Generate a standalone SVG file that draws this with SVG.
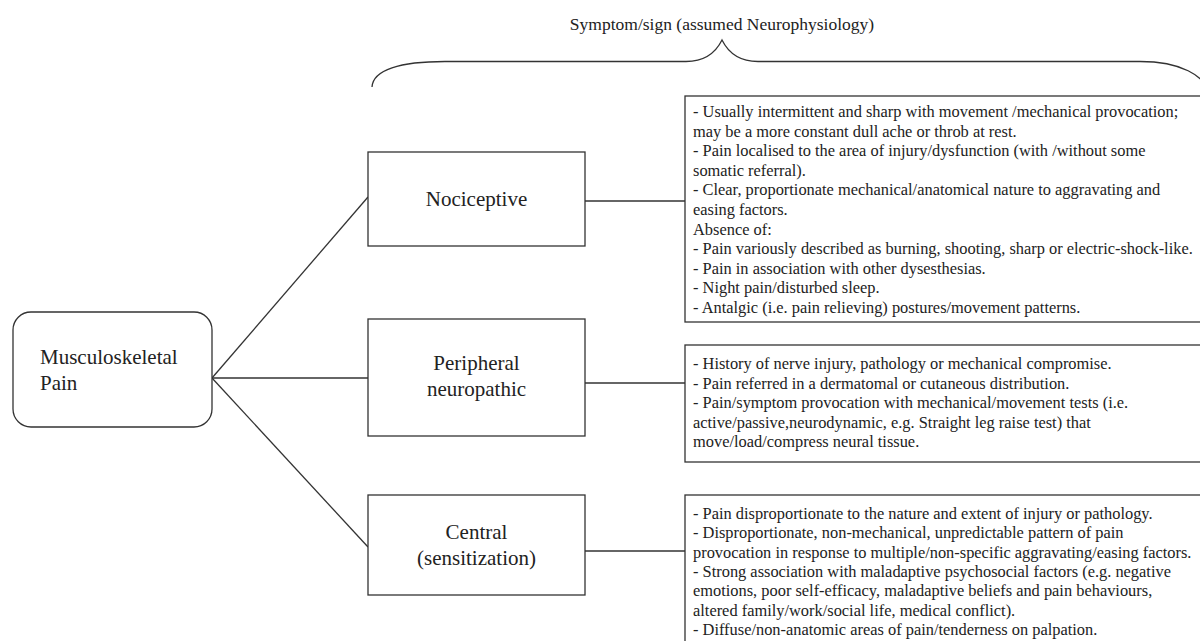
<svg xmlns="http://www.w3.org/2000/svg" width="1200" height="641" viewBox="0 0 1200 641">
<style>
  .box { fill: #ffffff; stroke: #333333; stroke-width: 1.3; }
  .ln { fill: none; stroke: #333333; stroke-width: 1.3; }
  .lbl { font-family: "Liberation Serif", "Times New Roman", serif; font-size: 21px; fill: #222222; }
  .det { font-family: "Liberation Serif", "Times New Roman", serif; font-size: 16.4px; fill: #222222; }
  .ttl { font-family: "Liberation Serif", "Times New Roman", serif; font-size: 17.5px; fill: #222222; }
</style>
<rect width="1200" height="641" fill="#ffffff"/>
<g id="header">
  <text class="ttl" x="722" y="30" text-anchor="middle">Symptom/sign (assumed Neurophysiology)</text>
  <path class="ln" d="M372,87 C373,70 400,61.5 445,61.5 L686,61.5 C706,61.5 716,52 722,40 C728,52 738,61.5 758,61.5 L1140,61.5 C1180,61.5 1205,75 1210,95"/>
</g>
<g id="connectors">
  <path class="ln" d="M212,378 L368,197"/>
  <path class="ln" d="M212,378 L368,378"/>
  <path class="ln" d="M212,378 L368,547"/>
  <path class="ln" d="M585,201 L685,201"/>
  <path class="ln" d="M585,383 L685,383"/>
  <path class="ln" d="M585,551 L685,551"/>
</g>
<g id="node-msk">
  <rect class="box" x="13" y="312" width="199" height="115" rx="18" ry="18"/>
  <text class="lbl" x="40" y="364">Musculoskeletal</text>
  <text class="lbl" x="40" y="390">Pain</text>
</g>
<g id="node-nociceptive">
  <rect class="box" x="368" y="152" width="217" height="94"/>
  <text class="lbl" x="476.5" y="206" text-anchor="middle">Nociceptive</text>
</g>
<g id="node-peripheral">
  <rect class="box" x="368" y="319" width="217" height="117"/>
  <text class="lbl" x="476.5" y="370" text-anchor="middle">Peripheral</text>
  <text class="lbl" x="476.5" y="396" text-anchor="middle">neuropathic</text>
</g>
<g id="node-central">
  <rect class="box" x="368" y="495" width="217" height="100"/>
  <text class="lbl" x="476.5" y="539" text-anchor="middle">Central</text>
  <text class="lbl" x="476.5" y="565" text-anchor="middle">(sensitization)</text>
</g>
<g id="detail-nociceptive">
  <rect class="box" x="685" y="96" width="530" height="226"/>
  <text class="det" x="693" y="117">- Usually intermittent and sharp with movement /mechanical provocation;</text>
  <text class="det" x="693" y="136.6">may be a more constant dull ache or throb at rest.</text>
  <text class="det" x="693" y="156.2">- Pain localised to the area of injury/dysfunction (with /without some</text>
  <text class="det" x="693" y="175.8">somatic referral).</text>
  <text class="det" x="693" y="195.4">- Clear, proportionate mechanical/anatomical nature to aggravating and</text>
  <text class="det" x="693" y="215">easing factors.</text>
  <text class="det" x="693" y="234.6">Absence of:</text>
  <text class="det" x="693" y="254.2">- Pain variously described as burning, shooting, sharp or electric-shock-like.</text>
  <text class="det" x="693" y="273.8">- Pain in association with other dysesthesias.</text>
  <text class="det" x="693" y="293.4">- Night pain/disturbed sleep.</text>
  <text class="det" x="693" y="313">- Antalgic (i.e. pain relieving) postures/movement patterns.</text>
</g>
<g id="detail-peripheral">
  <rect class="box" x="685" y="345" width="530" height="117"/>
  <text class="det" x="693" y="369">- History of nerve injury, pathology or mechanical compromise.</text>
  <text class="det" x="693" y="388.6">- Pain referred in a dermatomal or cutaneous distribution.</text>
  <text class="det" x="693" y="408.2">- Pain/symptom provocation with mechanical/movement tests (i.e.</text>
  <text class="det" x="693" y="427.8">active/passive,neurodynamic, e.g. Straight leg raise test) that</text>
  <text class="det" x="693" y="447.4">move/load/compress neural tissue.</text>
</g>
<g id="detail-central">
  <rect class="box" x="685" y="495" width="530" height="160"/>
  <text class="det" x="693" y="519">- Pain disproportionate to the nature and extent of injury or pathology.</text>
  <text class="det" x="693" y="538.3">- Disproportionate, non-mechanical, unpredictable pattern of pain</text>
  <text class="det" x="693" y="557.6">provocation in response to multiple/non-specific aggravating/easing factors.</text>
  <text class="det" x="693" y="576.9">- Strong association with maladaptive psychosocial factors (e.g. negative</text>
  <text class="det" x="693" y="596.2">emotions, poor self-efficacy, maladaptive beliefs and pain behaviours,</text>
  <text class="det" x="693" y="615.5">altered family/work/social life, medical conflict).</text>
  <text class="det" x="693" y="634.8">- Diffuse/non-anatomic areas of pain/tenderness on palpation.</text>
</g>
</svg>
